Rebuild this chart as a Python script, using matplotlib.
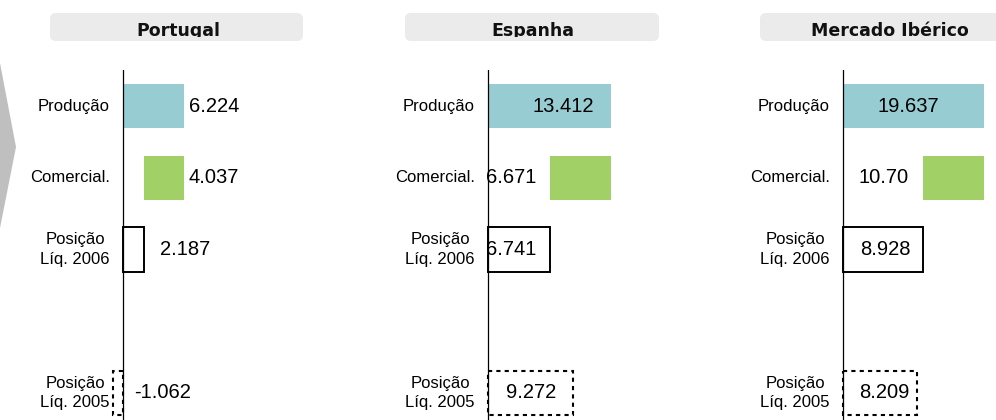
import matplotlib
matplotlib.use("Agg")
import matplotlib.pyplot as plt
from matplotlib.patches import FancyBboxPatch, Polygon
from matplotlib.transforms import Bbox, IdentityTransform

W, H = 996, 420

# data
panels = ["Portugal", "Espanha", "Mercado Ibérico"]
categories = ["Produção", "Comercial.", "Posição\nLíq. 2006", "Posição\nLíq. 2005"]
cat_pos = [0, 1, 2, 4]

producao = [6.224, 13.412, 19.637]
comercial = [4.037, 6.671, 10.709]
liq_2006 = [2.187, 6.741, 8.928]
liq_2005 = [-1.062, 9.272, 8.209]

value_labels = [
    ["6.224", "4.037", "2.187", "-1.062"],
    ["13.412", "6.671", "6.741", "9.272"],
    ["19.637", "10.70", "8.928", "8.209"],
]

# layout (pixels): zero line, pixels per unit, right clip edge, header box
zero_px = [123, 488, 843]
px_per_unit = [9.8, 9.17, 9.0]
right_px = [330, 700, 984]
header_box = [(50, 303), (405, 659), (760, 1002)]
header_cx = [178, 533, 889.5]
# where each value label starts (data units)
label_x = [[6.73, 6.73, 3.78, 1.12],
           [4.9, -0.2, -0.2, 1.96],
           [3.78, 1.67, 1.9, 1.8]]

TEAL = "#96CCD2"
GREEN = "#A1D067"
FONT = "Liberation Sans"

fig = plt.figure(figsize=(W / 100, H / 100), dpi=100)
fig.patch.set_facecolor("white")

# grey chevron on the left edge
fig.add_artist(Polygon([(0, H - 63), (16, H - 147), (0, H - 228)],
                       closed=True, transform=IdentityTransform(),
                       facecolor="#BFBFBF", edgecolor="none"))

row_px = 71.6
first_row = 106.3
top_px = 70

for i, name in enumerate(panels):
    # header box, text cut off at the bottom like the original
    x0, x1 = header_box[i]
    fig.add_artist(FancyBboxPatch((x0, H - 41), x1 - x0, 28,
                                  boxstyle="round,pad=0,rounding_size=6",
                                  transform=IdentityTransform(),
                                  facecolor="#EBEBEB", edgecolor="none"))
    t = fig.text(header_cx[i] / W, 1 - 36 / H, name, ha="center",
                 va="baseline", fontsize=12.5, fontweight="bold",
                 family="DejaVu Sans", color="#111111")
    t.set_clip_box(Bbox([[0, H - 36.5], [W, H]]))
    t.set_clip_on(True)

    # panel axes
    left = zero_px[i] - 20
    right = right_px[i]
    ax = fig.add_axes([left / W, 0, (right - left) / W, (H - top_px) / H])
    ppu = px_per_unit[i]
    ax.set_xlim((left - zero_px[i]) / ppu, (right - zero_px[i]) / ppu)
    ax.set_ylim((H - first_row) / row_px, -(first_row - top_px) / row_px)
    ax.axis("off")

    h = 0.62
    ax.barh(cat_pos[0], producao[i], height=h, color=TEAL, zorder=2)
    ax.barh(cat_pos[1], comercial[i], left=producao[i] - comercial[i],
            height=h, color=GREEN, zorder=2)
    ax.barh(cat_pos[2], liq_2006[i], height=h, facecolor="white",
            edgecolor="black", linewidth=1.4, zorder=2)
    ax.barh(cat_pos[3], liq_2005[i], height=h, facecolor="white",
            edgecolor="black", linewidth=1.5, linestyle=(0, (2, 2)), zorder=2)

    ax.axvline(0, color="black", linewidth=0.9, zorder=3)

    for pos, cat in zip(cat_pos, categories):
        ax.annotate(cat, xy=(0, pos), xytext=(-9.5, 0),
                    textcoords="offset points", ha="right", va="center",
                    multialignment="center", fontsize=12, family=FONT,
                    linespacing=1.35)

    for pos, lx, s in zip(cat_pos, label_x[i], value_labels[i]):
        ax.text(lx, pos, s, ha="left", va="center", fontsize=14.5,
                family=FONT, zorder=4)

fig.savefig("out.png", dpi=100)
